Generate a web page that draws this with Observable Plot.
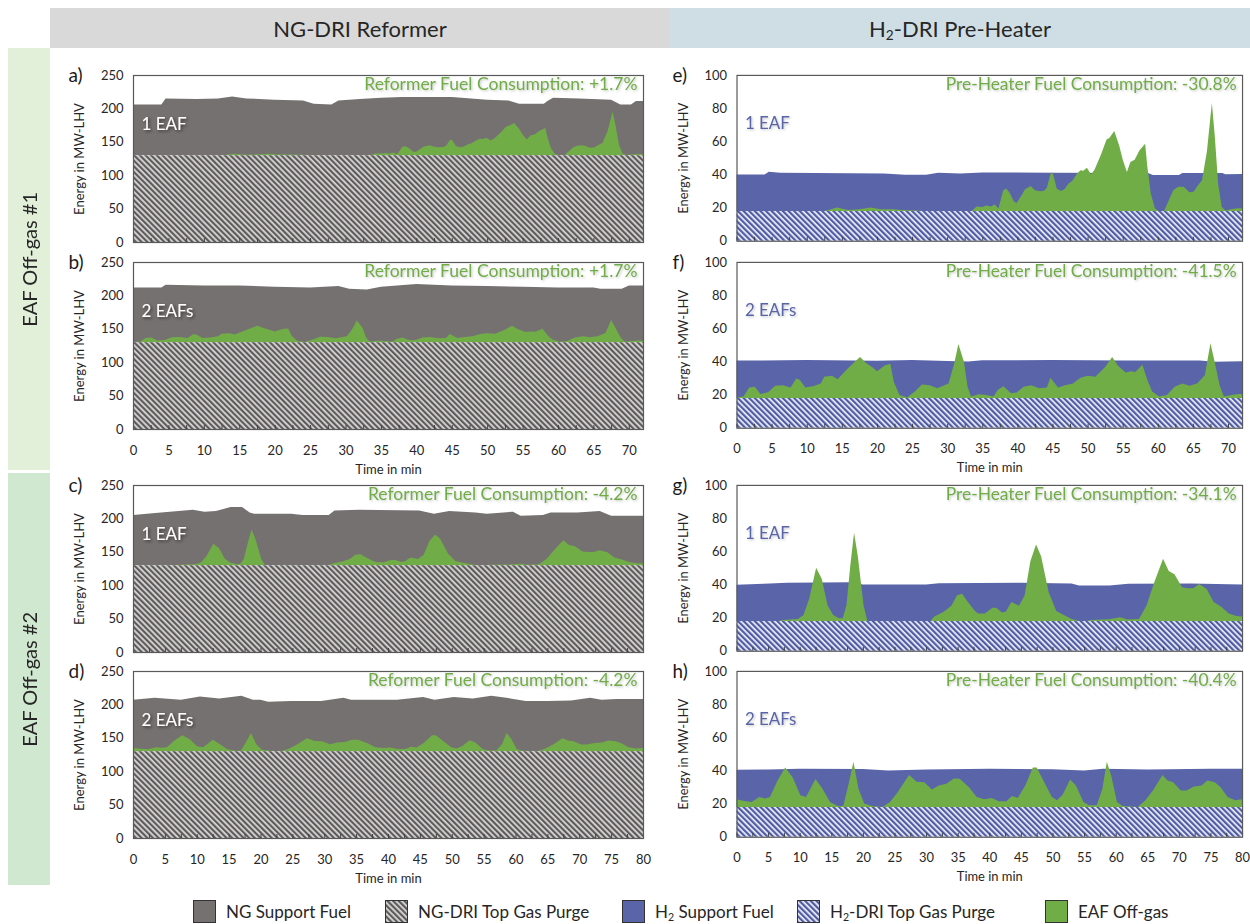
<!DOCTYPE html>
<html><head><meta charset="utf-8">
<script src="https://cdn.jsdelivr.net/npm/d3@7"></script>
<script src="https://cdn.jsdelivr.net/npm/@observablehq/plot@0.6"></script>
<style>
body{margin:0;background:#fff;font-family:Lato,"Open Sans",sans-serif;}
#root{position:relative;width:1250px;height:924px;overflow:hidden;background:#fff;}
.hdr{position:absolute;top:8px;height:40px;display:flex;align-items:center;justify-content:center;font-size:22px;color:#262626;}
.side{position:absolute;left:8px;width:42px;display:flex;align-items:center;justify-content:center;}
.side span{writing-mode:vertical-rl;transform:rotate(180deg);font-size:20px;color:#262626;white-space:nowrap;}
.panel{position:absolute;}
.leg{position:absolute;top:900px;display:flex;align-items:center;font-size:17px;color:#262626;white-space:nowrap;}
.leg svg{margin-right:10px;}
sub{font-size:0.62em;vertical-align:-0.25em;line-height:0;}
</style></head><body>
<svg width="0" height="0" style="position:absolute">
<defs>
<pattern id="hatchNG" patternUnits="userSpaceOnUse" width="4" height="4" patternTransform="rotate(-45)">
<rect width="4" height="4" fill="#d8d8d8"/><rect width="2.2" height="4" fill="#5e5a5a"/>
</pattern>
<pattern id="hatchH2" patternUnits="userSpaceOnUse" width="4" height="4" patternTransform="rotate(-45)">
<rect width="4" height="4" fill="#f4f5fb"/><rect width="2.3" height="4" fill="#4f5ca4"/>
</pattern>
<filter id="shDark" x="-20%" y="-40%" width="140%" height="180%"><feDropShadow dx="1.5" dy="1.5" stdDeviation="1.4" flood-color="#000" flood-opacity="0.55"/></filter>
<filter id="shLight" x="-20%" y="-40%" width="140%" height="180%"><feDropShadow dx="1.2" dy="1.2" stdDeviation="1.3" flood-color="#777" flood-opacity="0.4"/></filter>
</defs></svg>
<div id="root">
<div class="hdr" style="left:50px;width:620px;background:#d9d9d9"><span>NG-DRI Reformer</span></div>
<div class="hdr" style="left:670px;width:580px;background:#cfdee5"><span>H<sub>2</sub>-DRI Pre-Heater</span></div>
<div class="side" style="top:48px;height:422px;background:#e2f0da"><span>EAF Off-gas #1</span></div>
<div class="side" style="top:473px;height:412px;background:#d0e7d0"><span>EAF Off-gas #2</span></div>
</div>
<script>
// ---- data (MW-LHV over time in min) ----
const purgeNG = 130;   // NG-DRI top gas purge
const purgeH2 = 18;    // H2-DRI top gas purge

// total fuel demand (top of the stacked area) [time, MW]
const totalA = [[0,206],[4,206],[4.6,215],[9,214],[12,215],[14,218],[16,215],[20,213],[24,212],[25.5,207],[28,206],[29,212],[32,214],[35,216],[38,217],[45,217],[50,213],[53,212],[54.5,207],[58,207],[58.5,211],[59.3,216],[63,215],[67.5,213],[68.8,206],[70.3,206],[71,211],[72,211]];
const totalB = [[0,212],[4,212],[4.6,216],[10,215],[15,215],[20,213],[25,212],[29,214],[30.5,210],[33,209],[35,213],[40,217],[45,215],[50,214],[55,213],[60,212],[65,212],[66,210],[69,210],[70,215],[72,215]];
const totalC = [[0,205],[3.5,208],[9.4,213],[11.2,210],[13,211],[15.3,217],[17.1,217],[18.3,209],[19,207],[24.8,207],[26.6,205],[30.7,205],[31.6,212],[35.4,213],[44.9,212],[47.2,207],[49.6,211],[53.7,209],[55.5,207],[59.6,210],[60.8,204],[64.3,205],[65.5,209],[69.7,209],[73.2,211],[75,204],[80,204]];
const totalD = [[0,207],[3.4,210],[7.5,207],[10.5,212],[13.5,209],[17,213],[18.8,207],[20,207],[21.2,204],[24.8,205],[29.5,205],[33,210],[34.2,207],[41.4,207],[45.5,211],[47.3,207],[50.3,211],[53.3,209],[56.2,213],[59.2,209],[61.6,205],[65.1,205],[68.7,206],[71.7,210],[73.5,207],[75.8,208],[80,208]];
const totalE = [[0,40],[4,40],[4.6,41.6],[6.2,41],[21,40.5],[24,39.8],[27,39.8],[28.7,41],[31.9,40.6],[35,41.2],[45,41],[58.6,40.9],[59.3,39.6],[63,39.6],[63.5,40.8],[69.2,40.8],[69.6,40.1],[72,40.2]];
const totalF = [[0,40.5],[10,40.8],[20,40.4],[25,40.8],[30,40.2],[33,39.9],[35,40.7],[45,40.8],[55,40.5],[60,40.6],[66,40.6],[68,39.8],[72,40.1]];
const totalG = [[0,39.8],[4.3,40.4],[8,41],[18,41.3],[20,40],[30,40],[32,40.7],[45,41],[53,40.5],[54.2,39.4],[59,39.4],[62,40.4],[72,40.5],[80,40]];
const totalH = [[0,40.4],[5,40.6],[10,41],[20,40.8],[24,40],[30,40.5],[40,41],[50,40.7],[55,40],[58,41],[65,40.6],[75,41],[80,41]];

// EAF off-gas energy [time, MW]
const offgas1 = [[0,0],[12.5,0],[13.5,1],[14.3,2],[15.9,0.6],[17.5,1],[19.1,2],[20.5,1],[22.3,1],[23.5,0.6],[25.5,0.3],[26.5,0],[33.5,0],[34.2,2.6],[35,2.4],[35.6,3.2],[36.2,2.6],[36.8,3.8],[37.3,1.4],[38,12.4],[38.4,13.5],[38.9,11],[39.5,5.6],[39.9,4.8],[40.6,9.5],[41.1,13],[41.9,15],[42.5,12.5],[43.2,11.8],[43.8,12.2],[44.2,14],[44.8,23.5],[45.1,22],[45.6,13.5],[46.2,12],[46.7,13],[47.3,16.5],[47.8,18],[48.5,22.5],[49,24.5],[49.4,24.2],[49.9,26],[50.5,22],[51,25],[51.9,33.8],[52.7,43],[53.1,44],[53.8,48.2],[54.5,39.5],[55,31],[55.6,23.5],[56.1,29.5],[56.7,30.8],[57.4,36.5],[58.2,40.5],[58.5,27],[59,10.5],[59.6,1.5],[60.1,0],[60.9,0],[61.4,4.8],[62.2,12.4],[62.9,14.5],[63.7,14.5],[64.5,11.2],[65.1,11.5],[65.7,15.3],[66.3,18.5],[67,36],[67.7,65],[68.1,46],[68.6,16],[69.1,2.5],[69.6,0.3],[70.4,1],[71.4,1.6],[72,1.4]];
const offgas2 = [[0,0.2],[1,0.8],[1.8,6.2],[2.6,6.8],[3.4,2.4],[4.5,3.4],[5.5,7.3],[6.6,7.7],[7.7,6.2],[8.5,11.7],[9,11],[9.8,6.2],[10.9,7.1],[12,8.7],[12.5,12.7],[13.6,13.3],[14.4,11.3],[15.7,17.2],[16.8,21.6],[17.6,24.6],[18.4,21.2],[19.5,18],[20,16],[20.5,17.6],[21.1,19.6],[21.9,20.6],[22.4,9.7],[23.2,1.8],[24.3,0.2],[25.4,3.8],[26.4,8.1],[27.5,7.7],[28.6,5.8],[30.2,8.7],[31,20.6],[31.6,32.5],[32.4,21.6],[32.9,6.8],[33.4,0.8],[34.5,2.2],[35.6,1.8],[36.6,0.8],[37.2,4.8],[38,7.1],[39.1,2.8],[39.9,3.2],[40.9,6.8],[42,7.7],[43.1,5.8],[44.2,6.2],[44.7,12.1],[45.8,6.2],[46.8,7.7],[47.9,8.7],[49,12.1],[50,13.3],[51.1,12.7],[52.5,18.6],[53.5,24.6],[54.3,19.6],[55.4,15.3],[56.2,16],[56.8,15.6],[57.8,20],[58.6,9.7],[59.2,3.8],[60.2,0.8],[61.3,1.8],[62.4,6.8],[63.5,8.7],[64.5,7.3],[65.6,8.7],[66.7,13.7],[67.5,33],[68,23.6],[68.8,7.7],[69.4,0.8],[70.5,1.8],[71.5,2.4],[72,2.2]];
const offgas3 = [[0,0],[6.7,0],[7.3,0.6],[9.7,1.2],[10.6,3.6],[11.5,13.4],[12.6,32.1],[13.5,25.2],[14.4,9.5],[15.3,3.6],[16.2,1.6],[16.8,1.6],[17.4,9.5],[18,33.1],[18.6,53.2],[19.2,39],[20.1,9.5],[20.7,0],[30.7,0],[31.3,2.6],[32.8,5.5],[34,9.1],[34.9,15.4],[35.7,16.3],[36.4,12.4],[37.6,6.5],[38.2,4.5],[39.3,4.5],[40.5,7.9],[41.1,7.9],[42,5.1],[42.6,5.5],[43.5,11.4],[44.7,9.1],[45.6,15.4],[46.5,36],[47.4,46],[48.2,39],[49.4,17.3],[50.6,5.9],[51.8,3.6],[53,1.2],[54.2,0],[55.4,0],[56,0.6],[59,1],[60.7,2.2],[61.9,0.8],[63.7,1.2],[64.9,9.5],[66.1,23.2],[67.5,37.4],[68.4,30.1],[69.3,28.2],[70.5,20.3],[71.4,19.7],[72.3,19.7],[73.2,22.3],[74.4,19.3],[75.5,11.4],[76.7,8.5],[77.9,4.5],[79.1,3],[80,2.6]];
const offgas4 = [[0,4.6],[1.2,3.6],[2.4,3],[3.6,6],[4.5,5],[5.3,6],[6.5,15.9],[7.7,23.8],[8.9,17.8],[10.1,7],[11,6],[12.5,16.9],[13.6,10.9],[14.8,3],[16,0.6],[16.9,0.6],[17.8,14.9],[18.5,27.2],[19.3,10.9],[20.2,2],[21.4,0.6],[23.1,0],[24.3,3],[25.5,8.9],[27.3,19.2],[28.5,15.2],[29.7,14.9],[30.9,10.5],[32,12.9],[33.2,13.9],[34.4,17.2],[35.3,17],[36.8,11.9],[38,6],[39.2,4.6],[40.4,5.4],[41.5,3.4],[42.7,3.4],[43.6,6.6],[44.5,5.4],[45.7,12.9],[46.9,23.8],[47.5,23.8],[48.7,14.9],[49.9,6],[50.7,4],[51.6,7.3],[52.8,16.5],[53.7,12.9],[54.9,3],[55.8,1],[57,1],[57.9,10.9],[58.6,27.2],[59.3,18.8],[60.2,3],[61.1,0.6],[63.5,0],[64.7,4],[65.9,9.9],[67.4,19.2],[68.2,15.9],[69.1,14.9],[70.3,9.9],[71.2,9.9],[72.4,12.3],[73.6,12.9],[74.5,15.9],[75.7,14.9],[76.6,11.9],[77.7,6],[78.9,4],[80,4.6]];

const letters = ["a)","b)","c)","d)","e)","f)","g)","h)"];
const eafLabels = ["1 EAF","2 EAFs","1 EAF","2 EAFs"];
const notesNG = ["Reformer Fuel Consumption: +1.7%","Reformer Fuel Consumption: +1.7%","Reformer Fuel Consumption: -4.2%","Reformer Fuel Consumption: -4.2%"];
const notesH2 = ["Pre-Heater Fuel Consumption: -30.8%","Pre-Heater Fuel Consumption: -41.5%","Pre-Heater Fuel Consumption: -34.1%","Pre-Heater Fuel Consumption: -40.4%"];
const durations = [72,72,80,80];
const yTicksNG = [0,50,100,150,200,250];
const yTicksH2 = [0,20,40,60,80,100];
const xTicks72 = [0,5,10,15,20,25,30,35,40,45,50,55,60,65,70];
const xTicks80 = [0,5,10,15,20,25,30,35,40,45,50,55,60,65,70,75,80];
const legendItems = [
  {label:"NG Support Fuel", fill:"#767171"},
  {label:"NG-DRI Top Gas Purge", fill:"url(#hatchNG)"},
  {label:"H<sub>2</sub> Support Fuel", fill:"#5a65a9"},
  {label:"H<sub>2</sub>-DRI Top Gas Purge", fill:"url(#hatchH2)"},
  {label:"EAF Off-gas", fill:"#70ad47"}
];

// ---- styling / layout ----
const GREEN = "#70ad47", GRAY = "#767171", BLUE = "#5a65a9";
const frameTops = [75, 262, 485, 671];
const FH = 167;
const totalsNG = [totalA, totalB, totalC, totalD];
const totalsH2 = [totalE, totalF, totalG, totalH];
const offgases = [offgas1, offgas2, offgas3, offgas4];
const root = document.getElementById("root");

function panel(col, row) {
  const ng = col === 0;
  const xmax = durations[row];
  const labels = row === 1 || row === 3;
  const purge = ng ? purgeNG : purgeH2;
  const mb = labels ? 48 : 8;
  const minor = d3.range(0, xmax + 0.01, 2.5);
  const marks = [
    Plot.areaY(ng ? totalsNG[row] : totalsH2[row], {x: d => d[0], y1: purge, y2: d => d[1], fill: ng ? GRAY : BLUE}),
    Plot.areaY(offgases[row], {x: d => d[0], y1: purge, y2: d => purge + d[1], fill: GREEN}),
    Plot.areaY([0, xmax], {x: d => d, y1: 0, y2: purge, fill: ng ? "url(#hatchNG)" : "url(#hatchH2)"}),
    Plot.tickX(minor, {x: d => d, insetTop: FH - 4, stroke: "#404040", strokeWidth: 1}),
    Plot.frame({stroke: "#595959", strokeWidth: 1.2}),
    Plot.axisY({ticks: ng ? yTicksNG : yTicksH2, tickSize: 0, tickPadding: 10, label: "Energy in MW-LHV", labelAnchor: "center", labelOffset: 59, labelArrow: "none"})
  ];
  if (labels) marks.push(Plot.axisX({ticks: xmax === 72 ? xTicks72 : xTicks80, tickSize: 0, tickPadding: 16, label: "Time in min", labelAnchor: "center", labelOffset: 44, labelArrow: "none"}));
  marks.push(
    Plot.text([letters[col * 4 + row]], {frameAnchor: "top-left", dx: -65, dy: -7, textAnchor: "start", lineAnchor: "top", fontSize: 19, fill: "#1a1a1a"}),
    Plot.text([eafLabels[row]], {frameAnchor: "top-left", dx: 8, dy: 42, textAnchor: "start", lineAnchor: "top", fontSize: 17, fill: ng ? "#ffffff" : BLUE}),
    Plot.text([ng ? notesNG[row] : notesH2[row]], {frameAnchor: "top-right", dx: -6, dy: 2, textAnchor: "end", lineAnchor: "top", fontSize: 17.5, fill: GREEN})
  );
  const svg = Plot.plot({
    width: 590, height: 15 + FH + mb,
    marginLeft: 73, marginRight: ng ? 7 : 8, marginTop: 15, marginBottom: mb,
    style: {fontFamily: "Lato, 'Open Sans', sans-serif", fontSize: "13px", color: "#262626", background: "transparent", overflow: "visible"},
    x: {domain: [0, xmax], axis: labels ? undefined : null},
    y: {domain: [0, ng ? 250 : 100]},
    marks
  });
  const texts = svg.querySelectorAll('g[aria-label="text"]');
  if (texts[1]) texts[1].setAttribute("filter", ng ? "url(#shDark)" : "url(#shLight)");
  if (texts[2]) texts[2].setAttribute("filter", "url(#shLight)");
  const div = document.createElement("div");
  div.className = "panel";
  div.style.left = (ng ? 60 : 664) + "px";
  div.style.top = (frameTops[row] - 15) + "px";
  div.appendChild(svg);
  root.appendChild(div);
}
for (let c = 0; c < 2; c++) for (let r = 0; r < 4; r++) panel(c, r);

// legend
const legX = [193, 385, 622, 797, 1045];
legendItems.forEach((it, i) => {
  const d = document.createElement("div");
  d.className = "leg";
  d.style.left = legX[i] + "px";
  d.innerHTML = `<svg width="23" height="23"><rect x="0.5" y="0.5" width="22" height="22" fill="${it.fill}" stroke="#333" stroke-width="1"/></svg><span>${it.label}</span>`;
  root.appendChild(d);
});
</script>
</body></html>
